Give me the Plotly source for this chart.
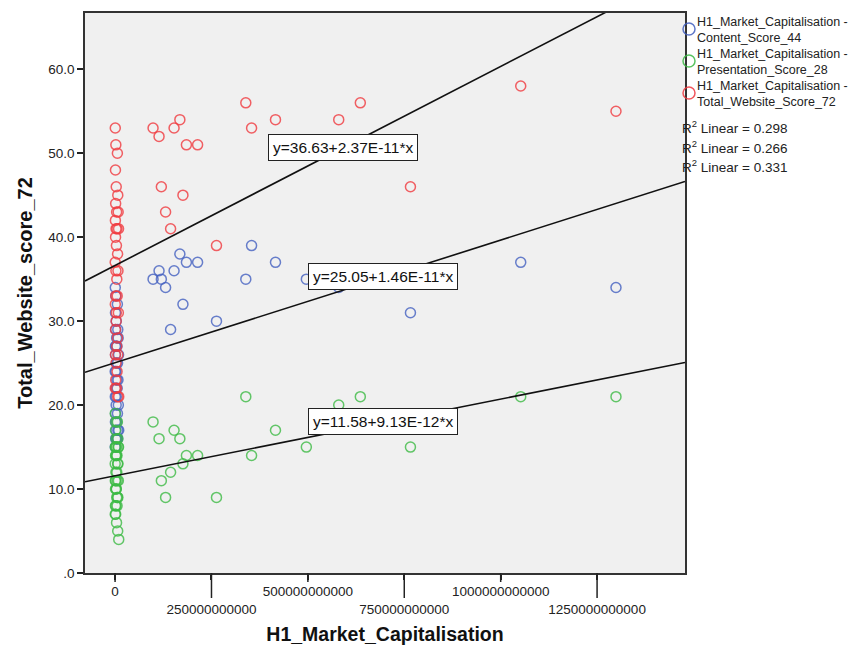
import plotly.graph_objects as go

# ---------------- data ----------------
market_cap_bn = [0.5, 2, 6, 1, 3, 7, 1.5, 4, 8, 0.8, 2.5, 5, 9, 1.2, 3.5, 6.5, 0.3, 2.2, 7.5, 4.5,
                 1.8, 5.5, 0.6, 3.2, 8.5, 2.8, 1.1, 6.2, 4.2, 0.9, 7.2, 2.4, 5.2, 1.6, 3.8, 6.8, 0.4, 9.5,
                 98.5, 114, 120, 131, 144, 153, 168, 176, 185, 214, 263, 339, 354, 416, 496, 580, 636,
                 766, 1052, 1299]
content_score = [34, 33, 32, 31, 30, 29, 29, 28, 28, 27, 27, 27, 26, 26, 25, 25, 24, 24, 23, 23,
                 22, 22, 21, 21, 20, 20, 19, 19, 18, 18, 17, 17, 16, 16, 16, 16, 15, 17,
                 35, 36, 35, 34, 29, 36, 38, 32, 37, 37, 30, 35, 39, 37, 35, 34, 35, 31, 37, 34]
presentation_score = [19, 18, 18, 17, 16, 16, 15, 15, 15, 15, 14, 14, 15, 14, 14, 13, 13, 12, 13, 12,
                      11, 11, 11, 10, 11, 10, 10, 9, 9, 8, 9, 8, 8, 7, 6, 5, 7, 4,
                      18, 16, 11, 9, 12, 17, 16, 13, 14, 14, 9, 21, 14, 17, 15, 20, 21, 15, 21, 21]
total_score = [53, 51, 50, 48, 46, 45, 44, 43, 43, 42, 41, 41, 41, 40, 39, 38, 37, 36, 36, 35,
               33, 33, 32, 31, 31, 30, 29, 28, 27, 26, 26, 25, 24, 23, 22, 21, 22, 21,
               53, 52, 46, 43, 41, 53, 54, 45, 51, 51, 39, 56, 53, 54, 50, 54, 56, 46, 58, 55]

legend_labels = ["H1_Market_Capitalisation -<br>Content_Score_44",
                 "H1_Market_Capitalisation -<br>Presentation_Score_28",
                 "H1_Market_Capitalisation -<br>Total_Website_Score_72"]
fit_intercepts = [25.05, 11.58, 36.63]
fit_slopes = [1.46e-11, 9.13e-12, 2.37e-11]
fit_labels = ["y=25.05+1.46E-11*x", "y=11.58+9.13E-12*x", "y=36.63+2.37E-11*x"]
r2_labels = ["R<sup>2</sup> Linear = 0.298", "R<sup>2</sup> Linear = 0.266", "R<sup>2</sup> Linear = 0.331"]

x_tick_vals = [0, 250e9, 500e9, 750e9, 1000e9, 1250e9]
x_tick_text = ["0", "<br>250000000000", "500000000000", "<br>750000000000",
               "1000000000000", "<br>1250000000000"]
y_tick_vals = [0, 10, 20, 30, 40, 50, 60]
y_tick_text = [".0", "10.0", "20.0", "30.0", "40.0", "50.0", "60.0"]

# ---------------- style ----------------
colors = ["#4360C0", "#3DBA45", "#F0393F"]
X_RANGE = [-78e9, 1478e9]
Y_RANGE = [0, 66.7]
FONT = "Liberation Sans, Arial, sans-serif"
OFF = 8  # page body margin of the browser
W, H = 862 - OFF, 648 - OFF
ML, MR, MT, MB = 85 - OFF, 177, 13 - OFF, 75
PW, PH = W - ML - MR, H - MT - MB


def px_x(p):  # page pixel -> paper coord
    return (p - OFF - ML) / PW


def px_y(p):
    return (H - MB - (p - OFF)) / PH


x_vals = [v * 1e9 for v in market_cap_bn]
series_values = [content_score, presentation_score, total_score]

fig = go.Figure()
for name, vals, col in zip(legend_labels, series_values, colors):
    fig.add_trace(go.Scatter(
        x=x_vals, y=vals, mode="markers", name=name,
        marker=dict(symbol="circle-open", size=10, color=col, opacity=0.8,
                    line=dict(width=1.5, color=col)),
    ))

for a, b in zip(fit_intercepts, fit_slopes):
    fig.add_trace(go.Scatter(
        x=X_RANGE, y=[a + b * X_RANGE[0], a + b * X_RANGE[1]],
        mode="lines", line=dict(color="#111111", width=1.6),
        showlegend=False, hoverinfo="skip",
    ))

annotations = []
shapes = []

# staggered x ticks: short for first label row, long for second row
for i, tv in enumerate(x_tick_vals):
    shapes.append(dict(
        type="line", xref="x", yref="paper", x0=tv, x1=tv,
        ysizemode="pixel", yanchor=0, y0=0, y1=-(25 if i % 2 else 9),
        line=dict(color="#222222", width=1.5), layer="above",
    ))

# equation label boxes (positions in data coords)
label_pos = [(694.5e9, 35.3), (694.5e9, 18.0), (592e9, 50.7)]
for (lx, ly), txt in zip(label_pos, fit_labels):
    annotations.append(dict(
        x=lx, y=ly, xref="x", yref="y", text=txt, showarrow=False,
        font=dict(family=FONT, size=15.5, color="#111111"),
        bgcolor="white", bordercolor="#222222", borderwidth=1, borderpad=4,
    ))

# custom legend (SPSS style two-line entries)
for i, (txt, col) in enumerate(zip(legend_labels, colors)):
    cy = 29 + 32 * i
    shapes.append(dict(
        type="circle", xref="paper", yref="paper",
        xsizemode="pixel", ysizemode="pixel",
        xanchor=px_x(689), yanchor=px_y(cy), x0=-6, x1=6, y0=-6, y1=6,
        line=dict(color=col, width=1.5), opacity=0.85,
    ))
    annotations.append(dict(
        x=px_x(696), y=px_y(cy + 1), xref="paper", yref="paper",
        xanchor="left", yanchor="middle", align="left", text=txt, showarrow=False,
        borderpad=0, font=dict(family=FONT, size=12.5, color="#222222"),
    ))

for i, txt in enumerate(r2_labels):
    annotations.append(dict(
        x=px_x(680), y=px_y(127 + 19.5 * i), xref="paper", yref="paper",
        xanchor="left", yanchor="middle",
        text=txt, showarrow=False, font=dict(family=FONT, size=13.5, color="#222222"),
    ))

fig.update_layout(
    width=W, height=H,
    margin=dict(l=ML, r=MR, t=MT, b=MB),
    paper_bgcolor="white", plot_bgcolor="#F0F0F0",
    font=dict(family=FONT, color="#222222"),
    showlegend=False,
    annotations=annotations,
    shapes=shapes,
)
fig.update_xaxes(
    range=X_RANGE, tickvals=x_tick_vals, ticktext=x_tick_text, tickangle=0,
    ticks="outside", ticklen=5, tickwidth=1.5, tickcolor="#222222",
    showline=True, linecolor="#333333", linewidth=1.5, mirror=True,
    showgrid=False, zeroline=False, automargin=False,
    tickfont=dict(family=FONT, size=13.5, color="#222222"),
    title=dict(text="<b>H1_Market_Capitalisation</b>", font=dict(family=FONT, size=19.5, color="#111111"),
               standoff=12),
)
fig.update_yaxes(
    range=Y_RANGE, tickvals=y_tick_vals, ticktext=y_tick_text,
    ticks="outside", ticklen=6, tickwidth=1.5, tickcolor="#222222",
    showline=True, linecolor="#333333", linewidth=1.5, mirror=True,
    showgrid=False, zeroline=False, automargin=False,
    tickfont=dict(family=FONT, size=13.5, color="#222222"),
    title=dict(text="<b>Total_Website_score_72</b>", font=dict(family=FONT, size=20, color="#111111"),
               standoff=10),
)

fig.write_html("out.html")
